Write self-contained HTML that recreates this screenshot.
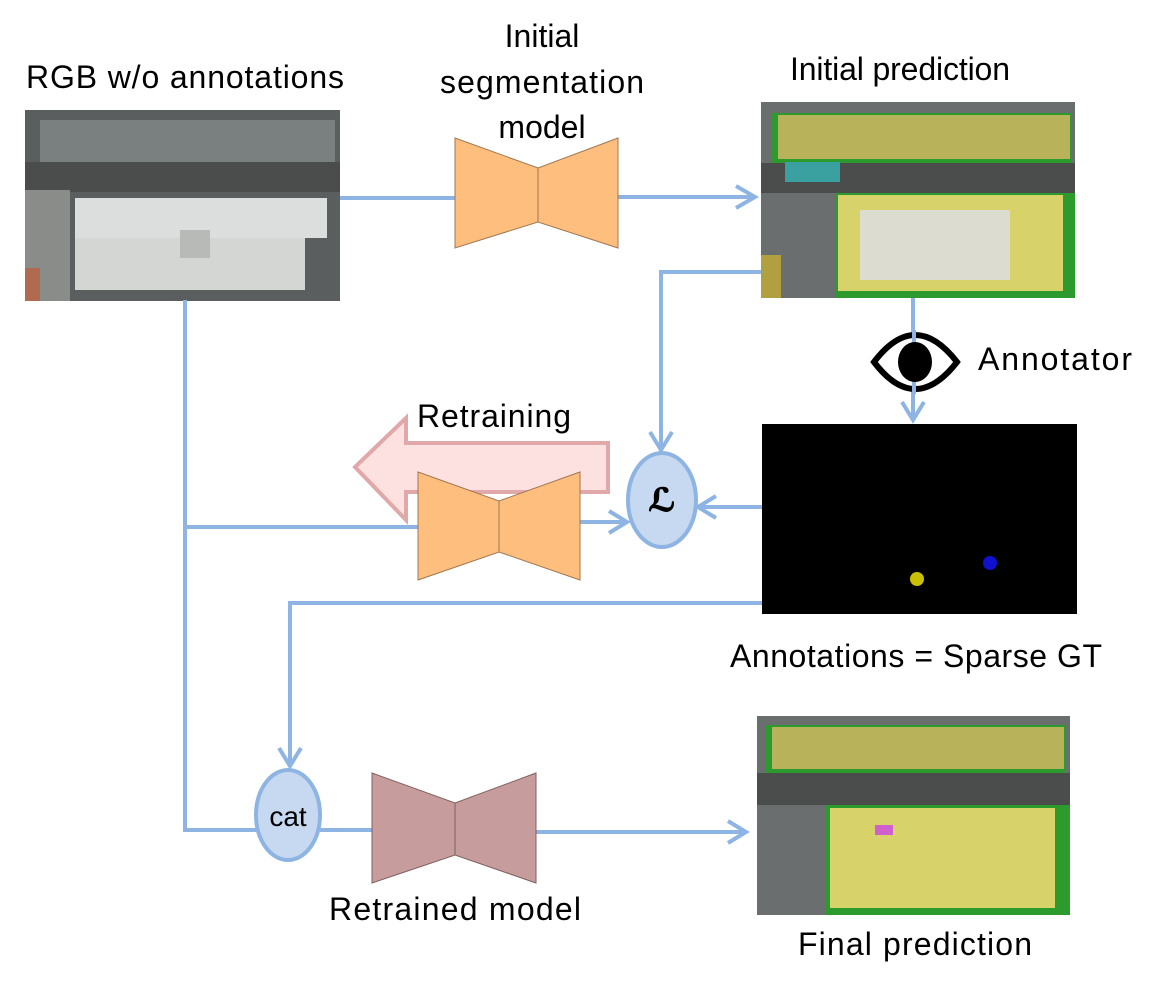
<!DOCTYPE html>
<html><head><meta charset="utf-8"><style>
html,body{margin:0;padding:0;background:#fff}
svg{display:block}
text{font-family:"Liberation Sans","DejaVu Sans",sans-serif;fill:#000}
</style></head><body>
<svg width="1157" height="992" viewBox="0 0 1157 992" xmlns="http://www.w3.org/2000/svg">
<g font-size="32">
<text x="185" y="88" text-anchor="middle" textLength="318">RGB w/o annotations</text>
<text x="542" y="47" text-anchor="middle">Initial</text>
<text x="542" y="93" text-anchor="middle" textLength="204">segmentation</text>
<text x="542" y="138" text-anchor="middle">model</text>
<text x="900" y="80" text-anchor="middle" textLength="220">Initial prediction</text>
<text x="978" y="370" textLength="154">Annotator</text>
<text x="494" y="427" text-anchor="middle" textLength="154">Retraining</text>
<text x="916" y="667" text-anchor="middle" textLength="372">Annotations = Sparse GT</text>
<text x="455" y="920" text-anchor="middle" textLength="252">Retrained model</text>
<text x="915" y="955" text-anchor="middle" textLength="234">Final prediction</text>
</g>

<!-- image 1 -->
<g>
<rect x="25" y="110" width="315" height="191" fill="#5a5e5e"/>
<rect x="40" y="120" width="295" height="42" fill="#7a7f80"/>
<rect x="25" y="162" width="315" height="30" fill="#4a4d4c"/>
<rect x="75" y="198" width="252" height="40" fill="#dcdedd"/>
<rect x="75" y="238" width="230" height="52" fill="#d4d6d4"/>
<rect x="25" y="190" width="45" height="111" fill="#8a8c8a"/>
<rect x="25" y="268" width="15" height="33" fill="#b06a50"/>
<rect x="180" y="230" width="30" height="28" fill="#b8bab8"/>
</g>
<!-- image 2 -->
<g>
<rect x="761" y="102" width="314" height="196" fill="#6a6e6e"/>
<rect x="771" y="113" width="300" height="50" fill="#2d9a2d"/>
<rect x="778" y="115" width="292" height="44" fill="#b8b25a"/>
<rect x="761" y="163" width="314" height="30" fill="#4a4d4c"/>
<rect x="785" y="162" width="55" height="20" fill="#3aa0a0"/>
<rect x="835" y="193" width="240" height="105" fill="#2d9a2d"/>
<rect x="838" y="195" width="225" height="96" fill="#d8d26a"/>
<rect x="860" y="210" width="150" height="70" fill="#dcdcd0"/>
<rect x="761" y="255" width="20" height="43" fill="#b0a040"/>
</g>
<!-- black box -->
<rect x="762" y="424" width="315" height="190" fill="#000"/>
<circle cx="917" cy="579" r="7" fill="#c8c000"/>
<circle cx="990" cy="563" r="7" fill="#1010d0"/>
<!-- final image -->
<g>
<rect x="757" y="716" width="313" height="199" fill="#6a6e6e"/>
<rect x="765" y="725" width="300" height="48" fill="#2d9a2d"/>
<rect x="772" y="727" width="292" height="42" fill="#b8b25a"/>
<rect x="757" y="773" width="313" height="32" fill="#4a4d4c"/>
<rect x="825" y="805" width="245" height="110" fill="#2d9a2d"/>
<rect x="830" y="808" width="225" height="100" fill="#d8d26a"/>
<rect x="875" y="825" width="18" height="10" fill="#d060d0"/>
</g>

<!-- connectors -->
<g stroke="#8db4e2" stroke-width="4" fill="none" stroke-linecap="butt">
<path d="M340 198 H455"/>
<path d="M618 197 H755"/>
<path d="M736 186 L755 197 L736 208"/>
<path d="M761 272 H661 V450"/>
<path d="M650 432 L661 450 L672 432"/>
<path d="M913 298 V420"/>
<path d="M902 402 L913 420 L924 402"/>
<path d="M762 507 H698"/>
<path d="M716 496 L698 507 L716 518"/>
<path d="M185 300 V830 H256"/>
<path d="M185 527 H418"/>
<path d="M580 522 H627"/>
<path d="M609 511 L627 522 L609 533"/>
<path d="M762 603 H290 V766"/>
<path d="M279 748 L290 766 L301 748"/>
<path d="M320 830 H372"/>
<path d="M536 832 H746"/>
<path d="M728 821 L746 832 L728 843"/>
</g>

<!-- retraining arrow -->
<path d="M608 443 V492 H406 V520 L355 467 L406 418 V443 Z" fill="#fde0e0" stroke="#e0a8a8" stroke-width="4"/>

<!-- bowties -->
<g stroke="#a07850" stroke-width="1">
<path d="M455 138 L538 168 L618 138 V248 L538 222 L455 248 Z" fill="#fdbe7e"/>
<path d="M538 168 V222"/>
<path d="M418 472 L499 501 L580 472 V580 L499 552 L418 580 Z" fill="#fdbe7e"/>
<path d="M499 501 V552"/>
</g>
<g stroke="#806060" stroke-width="1">
<path d="M372 773 L455 803 L536 773 V883 L455 855 L372 883 Z" fill="#c69c9c"/>
<path d="M455 803 V855"/>
</g>

<!-- ellipses -->
<ellipse cx="662" cy="500" rx="34" ry="47" fill="#c6d9f1" stroke="#8db4e2" stroke-width="4"/>
<text x="662" y="511" text-anchor="middle" font-size="32" font-style="italic" font-weight="bold" font-family="Liberation Serif,serif" stroke="#000" stroke-width="1">ℒ</text>
<ellipse cx="288" cy="815" rx="32" ry="45" fill="#c6d9f1" stroke="#8db4e2" stroke-width="4"/>
<text x="288" y="826" text-anchor="middle" font-size="28">cat</text>

<!-- eye -->
<path d="M874 362 Q915 308 957 362 Q915 416 874 362 Z" fill="#fff" stroke="#000" stroke-width="6"/>
<line x1="914" y1="330" x2="914" y2="394" stroke="#8db4e2" stroke-width="4"/>
<ellipse cx="915" cy="362" rx="17" ry="20" fill="#000"/>
</svg>
</body></html>
